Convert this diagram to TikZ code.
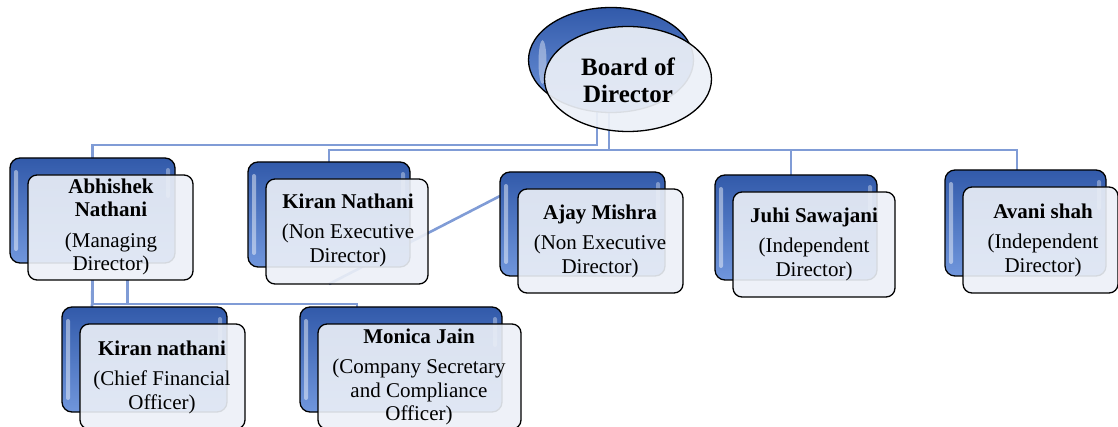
\documentclass[tikz,border=0pt]{standalone}
\usepackage{fontspec}
\setmainfont{Liberation Serif}
\usetikzlibrary{shapes.geometric,backgrounds}
\definecolor{connc}{RGB}{128,156,214}
\definecolor{bluetop}{RGB}{50,90,170}
\definecolor{bluebot}{RGB}{112,150,220}
\definecolor{frontfill}{RGB}{236,240,247}
\begin{document}
\begin{tikzpicture}[x=1pt,y=-1pt,
  conn/.style={draw=connc,line width=2.6pt},
  backbox/.style={draw=black,line width=1.3pt,rounded corners=10pt,
    top color=bluetop,bottom color=bluebot,inner sep=0pt,outer sep=0pt,
    path picture={\fill[white,opacity=.45,rounded corners=2pt]
      ([xshift=4pt,yshift=-12pt]path picture bounding box.north west) rectangle
      ([xshift=8pt,yshift=12pt]path picture bounding box.south west);
      \fill[white,opacity=.35,rounded corners=2pt]
      ([xshift=-9pt,yshift=-10pt]path picture bounding box.north east) rectangle
      ([xshift=-5pt,yshift=-40pt]path picture bounding box.north east);}},
  frontbox/.style={draw=black,line width=1.3pt,rounded corners=9pt,
    fill=frontfill,fill opacity=.9,
    inner sep=0pt,outer sep=0pt},
  backell/.style={ellipse,draw=black,line width=1.3pt,
    top color=bluetop,bottom color=bluebot,inner sep=0pt,outer sep=0pt,
    minimum width=165pt,minimum height=105pt,
    path picture={\fill[white,opacity=.4]
      ([xshift=14pt,yshift=-2pt]path picture bounding box.west) ellipse (4pt and 22pt);}},
  frontell/.style={ellipse,draw=black,line width=1.3pt,
    fill=frontfill,fill opacity=.92,
    inner sep=0pt,outer sep=0pt,minimum width=167pt,minimum height=105pt},
  txt/.style={align=center,font=\fontsize{21}{23.5}\selectfont,inner sep=0pt,text opacity=1},
  btxt/.style={align=center,font=\fontsize{25}{27}\selectfont\bfseries,inner sep=0pt}
]
\useasboundingbox (0,0) rectangle (1118,427);
\newcommand\orgbox[6]{% name, left, top, back width, height, front width
  \node[backbox,minimum width=#4pt,minimum height=#5pt,anchor=north west] (#1back) at (#2,#3) {};
  \node[frontbox,minimum width=#6pt,minimum height=#5pt,anchor=north west] (#1front)
    at ([xshift=18pt,yshift=-17pt]#1back.north west) {};
}
% board
\node[backell] (boardB) at (611,60) {};
\node[frontell] (boardF) at (628,79) {};
\node[btxt] (boardT) at (628,80) {Board of\\Director};
% boxes
\orgbox{b1}{10}{158}{165}{105}{165}
\orgbox{b2}{248}{162}{162}{105}{162}
\orgbox{b3}{500}{172}{165}{104}{165}
\orgbox{b4}{715}{175}{162}{105}{162}
\orgbox{b5}{945}{170}{161}{106}{155}
\orgbox{b6}{62}{307}{165}{105}{165}
\orgbox{b7}{300}{307}{202}{105}{203}
% texts
\node[txt] (t1) at (111,227) {\textbf{Abhishek}\\\textbf{Nathani}\\[7pt](Managing\\Director)};
\node[txt] (t2) at (348,230) {\textbf{Kiran Nathani}\\[7pt](Non Executive\\Director)};
\node[txt] (t3) at (600,241) {\textbf{Ajay Mishra}\\[7pt](Non Executive\\Director)};
\node[txt] (t4) at (814,244) {\textbf{Juhi Sawajani}\\[7pt](Independent\\Director)};
\node[txt] (t5) at (1043,240) {\textbf{Avani shah}\\[7pt](Independent\\Director)};
\node[txt] (t6) at (162,377) {\textbf{Kiran nathani}\\[7pt](Chief Financial\\Officer)};
\node[txt] (t7) at (419,377) {\textbf{Monica Jain}\\[7pt](Company Secretary\\and Compliance\\Officer)};
% connectors
\begin{pgfonlayer}{background}
\coordinate (bL) at (597,105);
\coordinate (bR) at (609,105);
\draw[conn] (bL) -- ++(0,40) -| (b1back.north);
\draw[conn] (bR) -- ++(0,45) -| (b2back.north);
\draw[conn] (bR) -- ++(0,45) -| ([xshift=-5pt]b4back.north);
\draw[conn] (bR) -- ++(0,45) -| ([xshift=-8.5pt]b5back.north);
\draw[conn] ([xshift=-18pt]b2front.south) -- ([yshift=28pt]b3back.west);
\draw[conn] ([xshift=-18pt]b1front.south) -- ++(0,24) -| ([xshift=-44pt]b7back.north);
\draw[conn] ([xshift=-18pt]b1front.south) -- ([xshift=-52.5pt]b6back.north);
\draw[conn] ([xshift=17pt]b1front.south) -- ++(0,24);
\end{pgfonlayer}
\end{tikzpicture}
\end{document}
